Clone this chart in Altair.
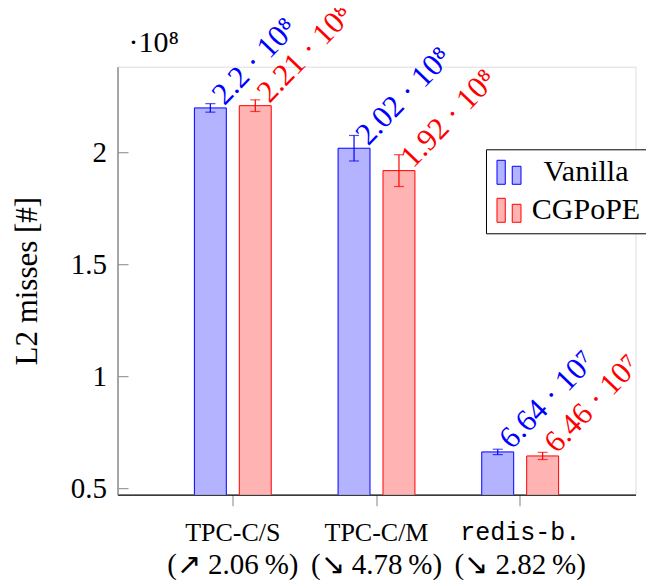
import altair as alt
import pandas as pd

categories = ["TPC-C/S", "TPC-C/M", "redis-b."]
series = ["Vanilla", "CGPoPE"]
vanilla = [2.20, 2.02, 0.664]
cgpope = [2.21, 1.92, 0.646]
vanilla_err = [0.019, 0.057, 0.012]
cgpope_err = [0.026, 0.071, 0.016]
vanilla_labels = ["2.2 · 10⁸", "2.02 · 10⁸", "6.64 · 10⁷"]
cgpope_labels = ["2.21 · 10⁸", "1.92 · 10⁸", "6.46 · 10⁷"]
change_labels = ["(↗ 2.06\u2009%)", "(↘ 4.78\u2009%)", "(↘ 2.82\u2009%)"]
y_ticks = [0.5, 1, 1.5, 2]
exponent_label = ["·10⁸"]

SERIF = "Liberation Serif"
MONO = "Liberation Mono"
W, H = 518, 428

rows = []
for s, vals, errs, labs in [("Vanilla", vanilla, vanilla_err, vanilla_labels),
                            ("CGPoPE", cgpope, cgpope_err, cgpope_labels)]:
    for c, v, e, l in zip(categories, vals, errs, labs):
        rows.append({"cat": c, "series": s, "val": v, "lo": v - e, "hi": v + e, "lab": l})
df = pd.DataFrame(rows)
cat_df = pd.DataFrame({"cat": categories, "top": ["TPC-C/S", "TPC-C/M", "redis-b."], "change": change_labels})
tick_df = pd.DataFrame({"val": y_ticks})
exp_df = pd.DataFrame({"t": exponent_label})

x_enc = alt.X("cat:N", sort=categories,
              scale=alt.Scale(domain=categories, paddingInner=0.465, paddingOuter=0.535),
              axis=alt.Axis(title=None, labels=False, domainColor="black", domainWidth=1.3,
                            tickColor="#999999", tickSize=11, tickWidth=1.2, grid=False))
xoff = alt.XOffset("series:N", sort=series,
                   scale=alt.Scale(domain=series, paddingInner=0.289, paddingOuter=0))
y_axis = alt.Axis(values=y_ticks, format="~g", tickSize=0, labelFontSize=29, labelFont=SERIF,
                  labelColor="black", labelPadding=11, domainColor="#777777", domainWidth=1.2,
                  grid=False, title="L2 misses [#]", titleFontSize=31, titleFont=SERIF,
                  titleFontWeight="normal", titleColor="black", titleAngle=270,
                  titleX=-90, titleY=H / 2, titleAlign="center", titleBaseline="middle")
y_scale = alt.Scale(domain=[0.473, 2.384], nice=False, zero=False)

def Y(field):
    return alt.Y(field, type="quantitative", scale=y_scale, axis=y_axis)

legend_path = "M-1,-1H-0.31V1H-1Z M0.27,-0.5H1V1H0.27Z"
leg = alt.Legend(title=None, orient="none", legendX=368.5, legendY=82.6,
                 symbolType=legend_path, symbolSize=576, symbolStrokeWidth=1, symbolOpacity=1,
                 labelFontSize=30, labelFont=SERIF, labelColor="black",
                 labelAlign="center", labelOffset=62, labelLimit=300,
                 strokeColor="black", fillColor="white", padding=8, rowPadding=8,
                 cornerRadius=0)

bars = alt.Chart(df).mark_bar(clip=True, strokeWidth=1).encode(
    x=x_enc, xOffset=xoff, y=Y("val"),
    fill=alt.Fill("series:N", sort=series,
                  scale=alt.Scale(domain=series, range=["#b3b3ff", "#ffb3b3"]), legend=leg),
    stroke=alt.Stroke("series:N", sort=series,
                      scale=alt.Scale(domain=series, range=["#0000ff", "#ff0000"]), legend=leg),
)

layers = [bars]
for s, col in [("Vanilla", "#0000ff"), ("CGPoPE", "#ff0000")]:
    base = alt.Chart(df).transform_filter(alt.datum.series == s)
    layers.append(base.mark_rule(color=col, strokeWidth=1.2).encode(
        x=x_enc, xOffset=xoff, y=Y("lo"), y2="hi"))
    layers.append(base.mark_tick(color=col, thickness=1.2, size=10, orient="horizontal").encode(
        x=x_enc, xOffset=xoff, y=Y("lo")))
    layers.append(base.mark_tick(color=col, thickness=1.2, size=10, orient="horizontal").encode(
        x=x_enc, xOffset=xoff, y=Y("hi")))
    layers.append(base.mark_text(angle=314, align="left", baseline="middle", dx=11,
                                 fontSize=31, font=SERIF, color=col).encode(
        x=x_enc, xOffset=xoff, y=Y("val"), text="lab:N"))

ticks = alt.Chart(tick_df).mark_rule(color="#999999", strokeWidth=1.2).encode(
    y=Y("val"), x=alt.value(0), x2=alt.value(11))
layers.append(ticks)

cat_base = alt.Chart(cat_df)
layers.append(cat_base.transform_filter(alt.datum.cat != "redis-b.").mark_text(
    fontSize=26, font=SERIF, color="black", baseline="middle").encode(
    x=x_enc, y=alt.value(H + 38), text="top:N"))
layers.append(cat_base.transform_filter(alt.datum.cat == "redis-b.").mark_text(
    fontSize=25, font=MONO, color="black", baseline="middle").encode(
    x=x_enc, y=alt.value(H + 37), text="top:N"))
layers.append(cat_base.mark_text(
    fontSize=29, font=SERIF, color="black", baseline="middle").encode(
    x=x_enc, y=alt.value(H + 70), text="change:N"))

layers.append(alt.Chart(exp_df).mark_text(
    fontSize=30, font=SERIF, color="black", align="left", baseline="alphabetic").encode(
    x=alt.value(11), y=alt.value(-15), text="t:N"))

chart = alt.layer(*layers).properties(
    width=W, height=H,
    autosize=alt.AutoSizeParams(type="none"),
    padding={"left": 109.5, "top": 58.7, "right": 10, "bottom": 85},
).configure_view(stroke=None).configure(background="white")

chart.save("out.html", embed_options={"renderer": "svg", "actions": False})
